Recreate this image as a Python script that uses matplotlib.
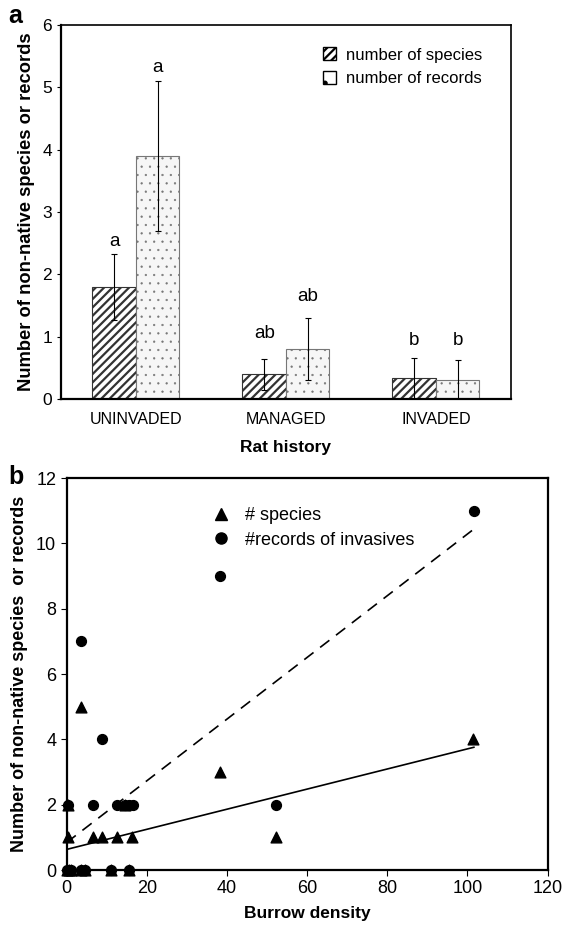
import numpy as np
import matplotlib
matplotlib.use('Agg')
import matplotlib.pyplot as plt
from matplotlib.patches import Patch
from matplotlib.lines import Line2D

plt.rcParams['font.family'] = ['Liberation Sans', 'DejaVu Sans']
plt.rcParams['hatch.linewidth'] = 1.6

# panel a: means and errors by rat history
categories = ['UNINVADED', 'MANAGED', 'INVADED']
species_mean = [1.8, 0.4, 0.33]
species_err = [0.53, 0.25, 0.33]
records_mean = [3.9, 0.8, 0.3]
records_err = [1.2, 0.5, 0.33]
species_letters = ['a', 'ab', 'b']
records_letters = ['a', 'ab', 'b']
species_letter_y = [2.53, 1.05, 0.94]
records_letter_y = [5.32, 1.65, 0.94]

# panel b: burrow density vs counts
species_x = [0, 0.5, 1.2, 3.5, 4.5, 11, 15.5, 0.4, 0.4, 3.6, 6.6, 8.8, 12.7, 16.4, 14.5, 38.2, 52.3, 101.4]
species_y = [0, 0, 0, 0, 0, 0, 0, 1, 2, 5, 1, 1, 1, 1, 2, 3, 1, 4]
records_x = [0, 0.5, 1.2, 3.5, 4.5, 11, 15.5, 0.4, 3.6, 8.8, 6.6, 12.5, 14.5, 15.5, 16.5, 38.2, 52.3, 101.6]
records_y = [0, 0, 0, 0, 0, 0, 0, 2, 7, 4, 2, 2, 2, 2, 2, 9, 2, 11]
species_fit = (0.0308, 0.63)   # slope, intercept
records_fit = (0.0945, 0.84)

fig = plt.figure(figsize=(5.64, 9.33), dpi=100)

# ---- panel a
ax = fig.add_axes([0.108, 0.5723, 0.798, 0.401])
x = np.arange(len(categories)) + 0.5
w = 0.29
ebkw = dict(elinewidth=0.8, capsize=2.5, capthick=0.8, ecolor='black')
ax.bar(x - w / 2, species_mean, w, yerr=species_err, color='white', edgecolor='#333333',
       hatch='////', linewidth=0.8, error_kw=ebkw, zorder=2)
with plt.rc_context({'hatch.linewidth': 0.4}):
    ax.bar(x + w / 2, records_mean, w, yerr=records_err, color='#f6f6f6', edgecolor='#777777',
           hatch='..', linewidth=0.8, error_kw=ebkw, zorder=2)
for i in range(len(categories)):
    ax.text(x[i] - w / 2, species_letter_y[i], species_letters[i], ha='center', va='center', fontsize=13.5)
    ax.text(x[i] + w / 2, records_letter_y[i], records_letters[i], ha='center', va='center', fontsize=13.5)

ax.set_xlim(0, 3)
ax.set_ylim(0, 6)
ax.set_xticks(x)
ax.set_xticklabels(categories, fontsize=11.5)
ax.tick_params(axis='x', length=0, pad=9)
ax.tick_params(axis='y', labelsize=12.5, length=3, direction='out')
for s in ax.spines.values():
    s.set_linewidth(1.2)
ax.spines['left'].set_linewidth(1.6)
ax.spines['bottom'].set_linewidth(1.6)
ax.set_xlabel('Rat history', fontsize=12.5, fontweight='bold', labelpad=10)
ax.set_ylabel('Number of non-native species or records', fontsize=13.2, fontweight='bold', labelpad=5)
with plt.rc_context({'hatch.linewidth': 1.2}):
    h1 = Patch(facecolor='white', edgecolor='black', hatch='////', label='number of species')
with plt.rc_context({'hatch.linewidth': 0.4}):
    h2 = Patch(facecolor='white', edgecolor='black', hatch='.', label='number of records')
ax.legend(handles=[h1, h2], loc='upper right', frameon=False, fontsize=12,
          handlelength=0.8, handleheight=0.8, handletextpad=0.6, bbox_to_anchor=(0.97, 0.98))
fig.text(0.014, 0.983, 'a', fontsize=18, fontweight='bold', va='center')

# ---- panel b
bx = fig.add_axes([0.118, 0.0675, 0.853, 0.420])
bx.scatter(species_x, species_y, marker='^', s=60, color='black', zorder=3, clip_on=False)
bx.scatter(records_x, records_y, marker='o', s=50, color='black', zorder=3, clip_on=False)
xs = np.array([0, max(records_x)])
bx.plot(xs, species_fit[0] * xs + species_fit[1], color='black', lw=1.2)
bx.plot(xs, records_fit[0] * xs + records_fit[1], color='black', lw=1.2, dashes=(7, 5))
bx.set_xlim(0, 120)
bx.set_ylim(0, 12)
bx.set_xticks(np.arange(0, 121, 20))
bx.set_yticks(np.arange(0, 13, 2))
bx.tick_params(labelsize=13, length=4, direction='out')
for s in bx.spines.values():
    s.set_linewidth(1.6)
bx.set_xlabel('Burrow density', fontsize=12.5, fontweight='bold', labelpad=6)
bx.set_ylabel('Number of non-native species  or records', fontsize=13.0, fontweight='bold', labelpad=6)
leg_handles = [Line2D([], [], marker='^', color='black', ls='none', markersize=9, label='# species'),
               Line2D([], [], marker='o', color='black', ls='none', markersize=8, label='#records of invasives')]
bx.legend(handles=leg_handles, loc='upper left', bbox_to_anchor=(0.25, 0.967), frameon=False,
          fontsize=13, handletextpad=0.3, labelspacing=0.4)
fig.text(0.014, 0.489, 'b', fontsize=18, fontweight='bold', va='center')

fig.savefig('out.png', dpi=100)
